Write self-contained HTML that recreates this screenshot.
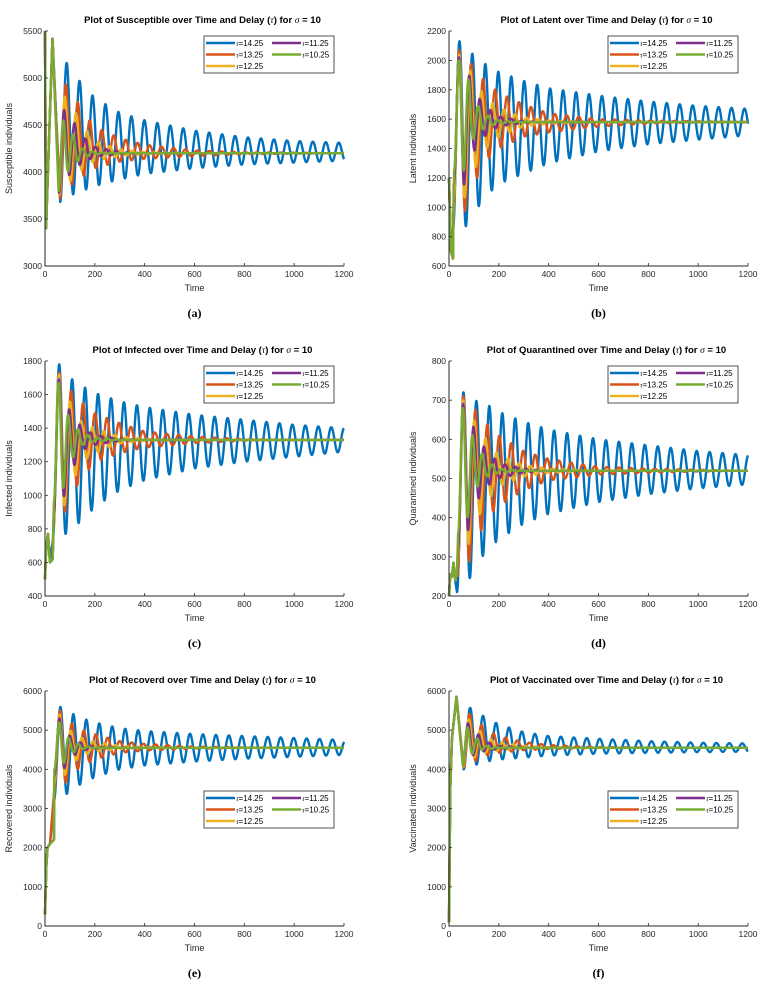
<!DOCTYPE html>
<html><head><meta charset="utf-8"><style>
html,body{margin:0;padding:0;background:#fff;}
svg{display:block;font-family:"Liberation Sans",sans-serif;}
</style></head><body>
<svg id="fig" width="769" height="987" viewBox="0 0 769 987" xmlns="http://www.w3.org/2000/svg"></svg>
<script>
// ---- data ----
const seriesLabels = ["14.25","13.25","12.25","11.25","10.25"];
const seriesColors = ["#0072BD","#D95319","#EDB120","#7E2F8E","#77AC30"];
const periods = [52, 48, 45, 42, 39];
const envT = [60,100,150,200,300,400,600,800,1000,1200];

const titles = ["Susceptible","Latent","Infected","Quarantined","Recoverd","Vaccinated"];
const yLabels = ["Susceptible individuals","Latent individuals","Infected individuals","Quarantined individuals","Recovered individuals","Vaccinated individuals"];
const panelLetters = ["(a)","(b)","(c)","(d)","(e)","(f)"];
const yMins = [3000,600,400,200,0,0];
const yMaxs = [5500,2200,1800,800,6000,6000];
const ySteps = [500,200,200,100,1000,1000];
const xTicks = [0,200,400,600,800,1000,1200];

// transients (time, value) common to all series
const transA = [[0,5500],[4,3400],[30,5420],[62,3700]];
const transB = [[0,1200],[8,700],[16,650]];
const transC = [[0,500],[5,700],[12,770],[20,600],[31,620]];
const transD = [[0,200],[5,255],[12,250],[18,285],[25,240],[32,260]];
const transE = [[0,300],[5,1500],[10,2000],[20,2100],[36,2200]];
const transF = [[0,100],[5,3500],[12,4800],[30,5850],[60,4000]];

// first peak time per series
const peaksA = [87,84,80,77,74];
const peaksB = [42,41,41,40,40];
const peaksC = [57,57,56,56,55];
const peaksD = [58,58,57,57,56];
const peaksE = [62,60,59,58,57];
const peaksF = [85,83,80,77,75];

// upper / lower envelopes per series at envT
const upA = [[5200,5140,4920,4790,4630,4550,4440,4370,4330,4310],[4980,4900,4650,4480,4360,4290,4230,4210,4205,4200],[4850,4750,4500,4330,4240,4210,4200,4200,4200,4200],[4700,4600,4380,4270,4210,4200,4200,4200,4200,4200],[4600,4450,4250,4210,4200,4200,4200,4200,4200,4200]];
const loA = [[3680,3750,3800,3850,3920,3980,4040,4080,4100,4120],[3720,3850,3950,4040,4110,4140,4170,4190,4195,4200],[3760,3900,4030,4120,4170,4190,4200,4200,4200,4200],[3780,3980,4100,4160,4190,4200,4200,4200,4200,4200],[3800,4050,4150,4190,4200,4200,4200,4200,4200,4200]];
const upB = [[2130,2030,1970,1920,1860,1810,1760,1720,1690,1670],[2070,1940,1850,1780,1700,1640,1600,1590,1585,1580],[2040,1870,1740,1680,1610,1590,1580,1580,1580,1580],[2020,1790,1680,1620,1585,1580,1580,1580,1580,1580],[2000,1720,1630,1590,1580,1580,1580,1580,1580,1580]];
const loB = [[850,960,1080,1160,1230,1300,1380,1430,1460,1490],[950,1160,1320,1400,1480,1510,1550,1570,1578,1580],[1050,1250,1400,1480,1550,1570,1580,1580,1580,1580],[1150,1380,1500,1550,1575,1580,1580,1580,1580,1580],[1250,1480,1550,1570,1580,1580,1580,1580,1580,1580]];
const upC = [[1780,1700,1650,1610,1560,1525,1480,1450,1420,1400],[1730,1630,1550,1490,1430,1380,1350,1335,1330,1330],[1720,1560,1430,1400,1350,1335,1330,1330,1330,1330],[1690,1500,1400,1360,1335,1330,1330,1330,1330,1330],[1670,1440,1370,1345,1330,1330,1330,1330,1330,1330]];
const loC = [[730,800,850,930,1030,1090,1160,1200,1230,1260],[800,1000,1100,1200,1250,1285,1310,1325,1330,1330],[850,1050,1200,1250,1310,1325,1330,1330,1330,1330],[900,1130,1270,1300,1325,1330,1330,1330,1330,1330],[960,1200,1300,1320,1330,1330,1330,1330,1330,1330]];
const upD = [[720,700,690,670,645,625,600,585,570,560],[710,680,640,610,570,550,530,525,522,520],[700,650,600,560,535,525,520,520,520,520],[690,630,570,540,525,520,520,520,520,520],[680,600,545,525,520,520,520,520,520,520]];
const loD = [[210,270,315,345,385,410,440,460,475,485],[250,320,400,430,470,495,510,515,518,520],[290,380,440,480,505,515,520,520,520,520],[320,430,480,500,515,520,520,520,520,520],[360,470,505,515,520,520,520,520,520,520]];
const upE = [[5600,5450,5300,5200,5050,4980,4900,4850,4800,4750],[5500,5200,5000,4900,4720,4650,4580,4560,4550,4550],[5400,5000,4800,4700,4600,4570,4550,4550,4550,4550],[5300,4850,4650,4580,4555,4550,4550,4550,4550,4550],[5200,4750,4600,4560,4550,4550,4550,4550,4550,4550]];
const loE = [[3200,3450,3650,3800,4000,4100,4200,4270,4320,4370],[3400,3850,4100,4250,4420,4480,4530,4545,4550,4550],[3600,4100,4350,4450,4520,4545,4550,4550,4550,4550],[3800,4300,4480,4530,4550,4550,4550,4550,4550,4550],[4000,4400,4520,4545,4550,4550,4550,4550,4550,4550]];
const upF = [[5600,5550,5300,5150,4950,4850,4780,4720,4680,4660],[5500,5350,5000,4850,4700,4620,4570,4555,4550,4550],[5400,5150,4800,4700,4600,4560,4550,4550,4550,4550],[5300,5000,4700,4600,4560,4550,4550,4550,4550,4550],[5200,4850,4600,4560,4550,4550,4550,4550,4550,4550]];
const loF = [[4000,4100,4200,4250,4300,4350,4400,4420,4440,4450],[4050,4200,4350,4420,4490,4520,4540,4550,4550,4550],[4080,4300,4430,4480,4530,4545,4550,4550,4550,4550],[4100,4380,4480,4520,4545,4550,4550,4550,4550,4550],[4100,4450,4520,4545,4550,4550,4550,4550,4550,4550]];

const transients = [transA,transB,transC,transD,transE,transF];
const firstPeaks = [peaksA,peaksB,peaksC,peaksD,peaksE,peaksF];
const uppers = [upA,upB,upC,upD,upE,upF];
const lowers = [loA,loB,loC,loD,loE,loF];

// ---- layout ----
const colX = [[45,344],[449,748]];
const rowTop = [31,361,691];
const plotH = 235;
const NS = "http://www.w3.org/2000/svg";
const svg = document.getElementById('fig');
function mk(tag, attrs, parent){ const e=document.createElementNS(NS,tag); for(const k in attrs) e.setAttribute(k,attrs[k]); (parent||svg).appendChild(e); return e; }
function interp(ts, vs, t){ if(t<=ts[0]) return vs[0]; for(let i=1;i<ts.length;i++){ if(t<=ts[i]){ const f=(t-ts[i-1])/(ts[i]-ts[i-1]); return vs[i-1]+f*(vs[i]-vs[i-1]); } } return vs[vs.length-1]; }

for(let p=0;p<6;p++){
  const col=p%2, row=Math.floor(p/2);
  const x0=colX[col][0], x1=colX[col][1], yT=rowTop[row], yB=yT+plotH;
  const ymin=yMins[p], ymax=yMaxs[p];
  const sx=t=>x0+(t/1200)*(x1-x0);
  const sy=v=>yB-(v-ymin)/(ymax-ymin)*plotH;
  const g=mk('g',{});
  
  
  const cx=(x0+x1)/2;
  const title=mk('text',{x:cx+8,y:yT-8,'text-anchor':'middle','font-size':'9.5','font-weight':'bold',fill:'#000'},g);
  
  
  title.innerHTML='Plot of '+titles[p]+' over Time and Delay (<tspan font-family="Liberation Serif" font-style="italic" font-weight="normal">τ</tspan>) for <tspan font-family="Liberation Serif" font-style="italic" font-weight="normal">σ</tspan> = 10';
  // series
  for(let s=0;s<5;s++){
    const P=periods[s], tp=firstPeaks[p][s], tStart=tp-P/2;
    const tr=transients[p];
    let pts=[];
    for(const q of tr){ if(q[0]<tStart) pts.push([q[0],q[1]]); }
    for(let t=tStart;t<=1200;t+=1){
      const U=interp(envT,uppers[p][s],t), L=interp(envT,lowers[p][s],t);
      const v=(U+L)/2+(U-L)/2*Math.cos(2*Math.PI*(t-tp)/P);
      pts.push([t,v]);
    }
    const d='M'+pts.map(q=>sx(q[0]).toFixed(2)+','+sy(q[1]).toFixed(2)).join('L');
    const path=mk('path',{d:d,fill:'none',stroke:seriesColors[s],'stroke-width':'2.4','stroke-linejoin':'round'},g);
    
    
  }
  // axes
  const ax=mk('path',{d:`M${x0},${yT}V${yB}H${x1}`,fill:'none',stroke:'#262626','stroke-width':'1'},g);
  
  
  for(let v=ymin;v<=ymax+1e-6;v+=ySteps[p]){
    const y=sy(v);
    mk('line',{x1:x0,y1:y,x2:x0+3,y2:y,stroke:'#262626','stroke-width':'0.8'},g);
    const tl=mk('text',{x:x0-3,y:y+3,'text-anchor':'end','font-size':'8.5',fill:'#262626'},g);
    
    
    tl.textContent=v;
  }
  for(const t of xTicks){
    const x=sx(t);
    mk('line',{x1:x,y1:yB,x2:x,y2:yB-3,stroke:'#262626','stroke-width':'0.8'},g);
    const tl=mk('text',{x:x,y:yB+11,'text-anchor':'middle','font-size':'8.5',fill:'#262626'},g);
    
    
    tl.textContent=t;
  }
  const xl=mk('text',{x:cx,y:yB+25,'text-anchor':'middle','font-size':'9',fill:'#262626'},g);
  
  
  xl.textContent='Time';
  const yl=mk('text',{x:0,y:0,'text-anchor':'middle','font-size':'9',fill:'#262626',transform:`translate(${x0-33},${(yT+yB)/2}) rotate(-90)`},g);
  
  
  yl.textContent=yLabels[p];
  const pl=mk('text',{x:cx,y:yB+51,'text-anchor':'middle','font-size':'12','font-weight':'bold','font-family':'Liberation Serif',fill:'#000'},g);
  
  
  pl.textContent=panelLetters[p];
  // legend
  const lx=x1-140, ly=(row===2)?yT+100:yT+5;
  const lg=mk('g',{},g);
  
  
  mk('rect',{x:lx,y:ly,width:130,height:37,fill:'#fff',stroke:'#262626','stroke-width':'0.8'},lg);
  for(let s=0;s<5;s++){
    const c=s<3?0:1, r=s<3?s:s-3;
    const ex=lx+(c===0?2:68), ey=ly+7+r*11.5;
    const ent=mk('g',{},lg);
    
    
    mk('line',{x1:ex,y1:ey,x2:ex+29,y2:ey,stroke:seriesColors[s],'stroke-width':'2.4'},ent);
    const et=mk('text',{x:ex+30,y:ey+3,'font-size':'8',fill:'#000'},ent);
    et.innerHTML='<tspan font-family="Liberation Serif" font-style="italic" font-size="7">τ</tspan>='+seriesLabels[s];
  }
}
</script>
</body></html>
